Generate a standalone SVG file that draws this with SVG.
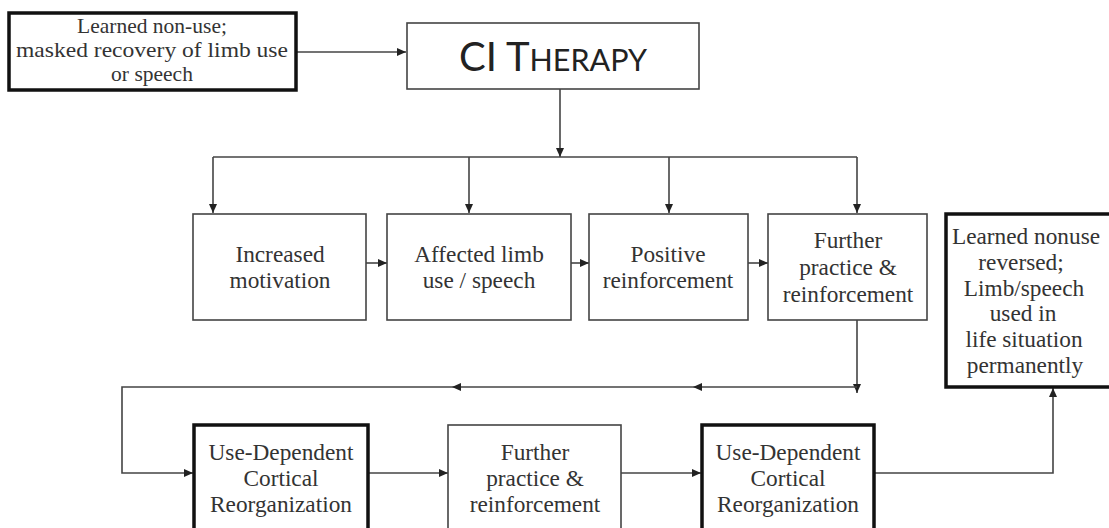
<svg xmlns="http://www.w3.org/2000/svg" width="1109" height="528" viewBox="0 0 1109 528">
<style>
.box{fill:#fff;stroke:#444;stroke-width:1.6}
.thick{fill:#fff;stroke:#111;stroke-width:3.5}
.t{font-family:"Liberation Serif","Times New Roman",serif;font-size:23.3px;fill:#333;text-anchor:middle}
.t.sm{font-size:21.5px}
.c{fill:none;stroke:#444;stroke-width:1.6}
.ci{font-family:Lato,"Open Sans",sans-serif;fill:#222;text-anchor:middle}
</style>
<defs>
<marker id="ah" markerUnits="userSpaceOnUse" markerWidth="10" markerHeight="8" refX="9" refY="4" orient="auto">
<path d="M0,0 L9,4 L0,8 Z" fill="#222"/>
</marker>
</defs>
<g id="connectors">
<path class="c" d="M296,52 H406" marker-end="url(#ah)"/>
<path class="c" d="M560,89 V157" marker-end="url(#ah)"/>
<path class="c" d="M213,157 H857"/>
<path class="c" d="M213,157 V213" marker-end="url(#ah)"/>
<path class="c" d="M469,157 V213" marker-end="url(#ah)"/>
<path class="c" d="M669,157 V213" marker-end="url(#ah)"/>
<path class="c" d="M857,157 V213" marker-end="url(#ah)"/>
<path class="c" d="M366,263 H387" marker-end="url(#ah)"/>
<path class="c" d="M571,263 H589" marker-end="url(#ah)"/>
<path class="c" d="M748,263 H768" marker-end="url(#ah)"/>
<path class="c" d="M857,320 V393" marker-end="url(#ah)"/>
<path class="c" d="M857,387 H693" marker-end="url(#ah)"/>
<path class="c" d="M693,387 H452" marker-end="url(#ah)"/>
<path class="c" d="M452,387 H122 V473 H193" marker-end="url(#ah)"/>
<path class="c" d="M368,473 H448" marker-end="url(#ah)"/>
<path class="c" d="M621,473 H701" marker-end="url(#ah)"/>
<path class="c" d="M874,473 H1053 V388" marker-end="url(#ah)"/>
</g>
<g id="learned-nonuse">
<rect class="thick" x="9" y="13" width="287" height="77"/>
<text class="t sm"><tspan x="152" y="33">Learned non-use;</tspan><tspan x="152" y="57" textLength="272" lengthAdjust="spacingAndGlyphs">masked recovery of limb use</tspan><tspan x="152" y="81">or speech</tspan></text>
</g>
<g id="ci-therapy">
<rect class="box" x="407" y="23" width="292" height="66"/>
<text class="ci" x="553" y="71"><tspan font-size="40">CI T</tspan><tspan font-size="30.5">HERAPY</tspan></text>
</g>
<g id="increased-motivation">
<rect class="box" x="193" y="214" width="173" height="106"/>
<text class="t"><tspan x="280" y="262">Increased</tspan><tspan x="280" y="288">motivation</tspan></text>
</g>
<g id="affected-limb">
<rect class="box" x="387" y="214" width="184" height="106"/>
<text class="t"><tspan x="479" y="262">Affected limb</tspan><tspan x="479" y="288">use / speech</tspan></text>
</g>
<g id="positive-reinforcement">
<rect class="box" x="589" y="214" width="159" height="106"/>
<text class="t"><tspan x="668" y="262">Positive</tspan><tspan x="668" y="288">reinforcement</tspan></text>
</g>
<g id="further-practice-1">
<rect class="box" x="768" y="214" width="159" height="106"/>
<text class="t"><tspan x="848" y="248">Further</tspan><tspan x="848" y="275">practice &amp;</tspan><tspan x="848" y="302">reinforcement</tspan></text>
</g>
<g id="learned-nonuse-reversed">
<rect class="thick" x="946" y="214" width="180" height="173"/>
<text class="t"><tspan x="1026" y="244">Learned nonuse</tspan><tspan x="1021" y="270">reversed;</tspan><tspan x="1024" y="296">Limb/speech</tspan><tspan x="1023" y="321">used in</tspan><tspan x="1024" y="347">life situation</tspan><tspan x="1025" y="373">permanently</tspan></text>
</g>
<g id="cortical-1">
<rect class="thick" x="194" y="425" width="174" height="120"/>
<text class="t"><tspan x="281" y="460">Use-Dependent</tspan><tspan x="281" y="486">Cortical</tspan><tspan x="281" y="512">Reorganization</tspan></text>
</g>
<g id="further-practice-2">
<rect class="box" x="448" y="425" width="173" height="120"/>
<text class="t"><tspan x="535" y="460">Further</tspan><tspan x="535" y="486">practice &amp;</tspan><tspan x="535" y="512">reinforcement</tspan></text>
</g>
<g id="cortical-2">
<rect class="thick" x="702" y="425" width="172" height="120"/>
<text class="t"><tspan x="788" y="460">Use-Dependent</tspan><tspan x="788" y="486">Cortical</tspan><tspan x="788" y="512">Reorganization</tspan></text>
</g>
</svg>
